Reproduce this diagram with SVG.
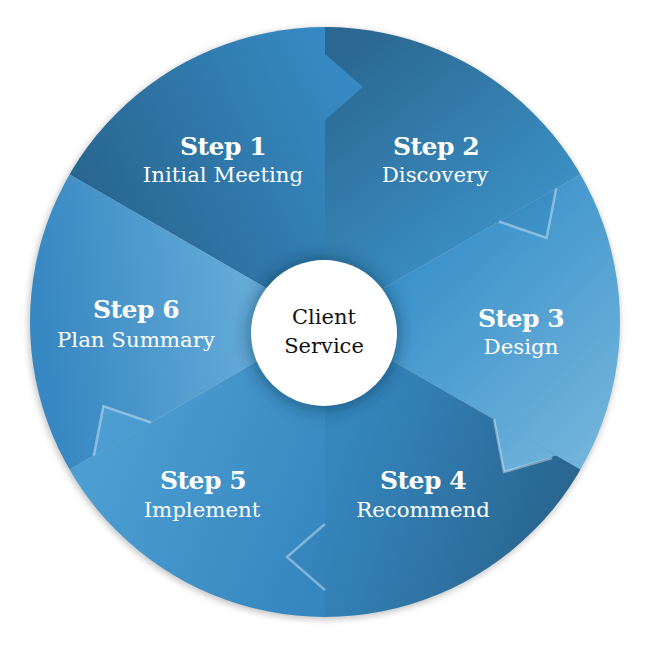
<svg xmlns="http://www.w3.org/2000/svg" width="650" height="650" viewBox="0 0 650 650">
  <style>
    .title { font-family: "DejaVu Serif", "Liberation Serif", serif; font-weight: bold; font-size: 25px; letter-spacing: -0.5px; fill: #ffffff; text-anchor: middle; }
    .sub { font-family: "DejaVu Serif", "Liberation Serif", serif; font-size: 21.3px; fill: #ffffff; text-anchor: middle; }
    .center { font-family: "DejaVu Serif", "Liberation Serif", serif; font-size: 21px; fill: #111111; text-anchor: middle; }
    .hl { fill: none; stroke: #ffffff; stroke-opacity: 0.38; stroke-width: 2.5; stroke-linejoin: miter; }
  </style>
  <defs>
    <clipPath id="disc"><circle cx="325" cy="322" r="295"/></clipPath>
    <filter id="blur3" x="-20%" y="-20%" width="140%" height="140%"><feGaussianBlur stdDeviation="3"/></filter>
    <filter id="blur8" x="-50%" y="-50%" width="200%" height="200%"><feGaussianBlur stdDeviation="8"/></filter>
    <linearGradient id="g1" gradientUnits="userSpaceOnUse" x1="70" y1="190" x2="330" y2="70">
      <stop offset="0" stop-color="#28648e"/>
      <stop offset="1" stop-color="#3689c2"/>
    </linearGradient>
    <linearGradient id="g2" gradientUnits="userSpaceOnUse" x1="350" y1="40" x2="540" y2="280">
      <stop offset="0" stop-color="#2a6791"/>
      <stop offset="1" stop-color="#3f98cf"/>
    </linearGradient>
    <linearGradient id="g3" gradientUnits="userSpaceOnUse" x1="420" y1="250" x2="600" y2="440">
      <stop offset="0" stop-color="#3a91ca"/>
      <stop offset="1" stop-color="#70b3db"/>
    </linearGradient>
    <linearGradient id="g4" gradientUnits="userSpaceOnUse" x1="360" y1="400" x2="590" y2="480">
      <stop offset="0" stop-color="#3586bd"/>
      <stop offset="1" stop-color="#28638d"/>
    </linearGradient>
    <linearGradient id="g5" gradientUnits="userSpaceOnUse" x1="90" y1="460" x2="330" y2="560">
      <stop offset="0" stop-color="#4d9ed2"/>
      <stop offset="1" stop-color="#3586bf"/>
    </linearGradient>
    <linearGradient id="g6" gradientUnits="userSpaceOnUse" x1="40" y1="330" x2="250" y2="300">
      <stop offset="0" stop-color="#3787c2"/>
      <stop offset="1" stop-color="#64abd8"/>
    </linearGradient>
  </defs>

  <!-- outer drop shadow -->
  <circle cx="324" cy="324" r="296" fill="#000000" fill-opacity="0.22" filter="url(#blur3)"/>

  <g clip-path="url(#disc)">
    <g id="step1"><path d="M325,322 L47.9,162 A320,320 0 0 1 325,2 Z" fill="url(#g1)"/></g>
    <g id="step2"><path d="M325,322 L325,2 A320,320 0 0 1 602.1,162 Z" fill="url(#g2)"/></g>
    <g id="step3"><path d="M325,322 L602.1,162 A320,320 0 0 1 602.1,482 Z" fill="url(#g3)"/></g>
    <g id="step4"><path d="M325,322 L602.1,482 A320,320 0 0 1 325,642 Z" fill="url(#g4)"/></g>
    <g id="step5"><path d="M325,322 L325,642 A320,320 0 0 1 47.9,482 Z" fill="url(#g5)"/></g>
    <g id="step6"><path d="M325,322 L47.9,482 A320,320 0 0 1 47.9,162 Z" fill="url(#g6)"/></g>

    <!-- chevron arrows between steps -->
    <g id="connectors">
      <polygon points="325,120 325,54 363,87" fill="url(#g1)"/>
      <polygon points="499.1,221.5 556.2,188.5 546.6,237.9" fill="url(#g2)"/>
      <polygon points="494,419.2 556.2,455.5 504,472" fill="url(#g3)"/>
      <polygon points="325,524 325,590 287,557" fill="url(#g4)"/>
      <polygon points="150.9,422.5 93.8,455.5 103.4,406.1" fill="url(#g5)"/>
      <polyline class="hl" points="499.1,221.5 546.6,237.9 556.2,188.5"/>
      <polyline class="hl" points="494,419.2 504,472 552,458"/>
      <polyline class="hl" points="325,524 287,557 325,590"/>
      <polyline class="hl" points="150.9,422.5 103.4,406.1 93.8,455.5"/>
    </g>
  </g>

  <!-- center -->
  <g id="center">
    <circle cx="324" cy="334" r="76" fill="#0a2a45" fill-opacity="0.45" filter="url(#blur8)"/>
    <circle cx="324" cy="333" r="73" fill="#ffffff"/>
    <text class="center" x="324" y="324">Client</text>
    <text class="center" x="324" y="353">Service</text>
  </g>

  <g id="label1"><text class="title" x="223" y="155">Step 1</text><text class="sub" x="223" y="182">Initial Meeting</text></g>
  <g id="label2"><text class="title" x="436" y="155">Step 2</text><text class="sub" x="435" y="182">Discovery</text></g>
  <g id="label3"><text class="title" x="521" y="327">Step 3</text><text class="sub" x="521" y="354">Design</text></g>
  <g id="label4"><text class="title" x="423" y="489">Step 4</text><text class="sub" x="423" y="517">Recommend</text></g>
  <g id="label5"><text class="title" x="203" y="489">Step 5</text><text class="sub" x="202" y="517">Implement</text></g>
  <g id="label6"><text class="title" x="136" y="318">Step 6</text><text class="sub" x="136" y="347">Plan Summary</text></g>
</svg>
